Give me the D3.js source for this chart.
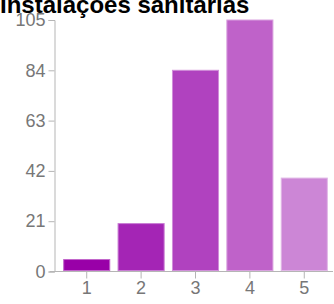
<!DOCTYPE html>
<html>
<head>
<meta charset="utf-8">
<script src="https://cdn.jsdelivr.net/npm/d3@7"></script>
<style>
  body { margin: 0; background: #fff; }
  svg { display: block; font-family: "Liberation Sans", Arial, sans-serif; }
  .axis path, .axis line { stroke: #b5b5b5; }
  .axis text { fill: #777; font-size: 18px; }
</style>
</head>
<body>
<div id="chart"></div>
<script>
// data
const categories = ["1", "2", "3", "4", "5"];
const counts = [5, 20, 84, 105, 39];
const colors = ["#9900a8", "#a425b5", "#b042bf", "#bf62c9", "#cc86d6"];
const yTicks = [0, 21, 42, 63, 84, 105];
const title = "Instalações sanitárias";

const width = 334;
const height = 304;

const svg = d3.select("#chart")
    .append("svg")
    .attr("width", width)
    .attr("height", height);

const x = d3.scaleBand()
    .domain(categories)
    .range([59.5, 331.5])
    .paddingInner(0.153)
    .paddingOuter(0.077);

const y = d3.scaleLinear()
    .domain([0, 105])
    .range([271.5, 20]);

// title is partly cut off at the top, as in the source image
svg.append("text")
    .attr("x", 0)
    .attr("y", 13)
    .attr("font-weight", "bold")
    .attr("font-size", 24)
    .attr("fill", "#000")
    .text(title);

svg.selectAll("rect.bar")
    .data(counts)
    .enter().append("rect")
    .attr("class", "bar")
    .attr("x", (d, i) => x(categories[i]))
    .attr("y", d => y(d))
    .attr("width", x.bandwidth())
    .attr("height", d => y(0) - y(d) - 1)
    .attr("fill", (d, i) => colors[i])
    .attr("stroke", (d, i) => d3.interpolateRgb(colors[i], "#fff")(0.4))
    .attr("stroke-width", 1);

// y axis
svg.append("g")
    .attr("class", "axis")
    .attr("transform", "translate(54.5,0)")
    .call(d3.axisLeft(y).tickValues(yTicks).tickSize(6).tickSizeOuter(6).tickPadding(3));

// x axis line + ticks
const xAxis = svg.append("g")
    .attr("class", "axis")
    .attr("transform", "translate(0," + y(0) + ")")
    .call(d3.axisBottom(x).tickSize(7).tickSizeOuter(0).tickPadding(3));
xAxis.select(".domain").attr("d", "M50,0H333");
</script>
</body>
</html>
